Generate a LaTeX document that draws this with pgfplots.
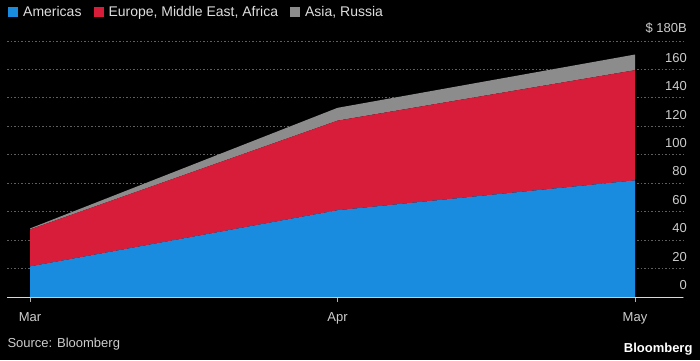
\documentclass[border=0pt]{standalone}
\usepackage{fontspec}
\setmainfont{Liberation Sans}
\usepackage{pgfplots}
\pgfplotsset{compat=1.18}
\definecolor{amer}{RGB}{26,140,224}
\definecolor{emea}{RGB}{215,29,58}
\definecolor{asia}{RGB}{140,140,140}
\definecolor{txt}{RGB}{205,205,205}
\definecolor{grd}{RGB}{95,95,95}
\begin{document}
\begin{tikzpicture}
\fill[black] (0,0) rectangle (700pt,360pt);
\useasboundingbox (0,0) rectangle (700pt,360pt);
\begin{axis}[
  at={(7pt,63pt)}, anchor=south west,
  scale only axis, width=676pt, height=256pt,
  xmin=-2.32, xmax=65.84, ymin=0, ymax=180,
  stack plots=y,
  axis x line=bottom, axis y line=right,
  x axis line style={draw=white!85!black, line width=1pt, -},
  y axis line style={draw=none},
  /pgf/number format/assume math mode=true,
  ytick={0,20,...,180},
  yticklabels={0,20,40,60,80,100,120,140,160,{\$ 180B}},
  yticklabel style={anchor=south east, font=\fontsize{13}{13}\selectfont, text=txt, inner sep=1pt, yshift=6pt},
  ytick style={draw=none},
  xtick={0,31,61}, xticklabels={Mar,Apr,May},
  xticklabel style={anchor=north, font=\fontsize{13}{13}\selectfont, text=txt, yshift=-7pt},
  tick align=outside, major tick length=5pt,
  xtick style={draw=white!70!black, line width=0.8pt},
  ymajorgrids, grid style={draw=grd, line width=0.8pt, dash pattern=on 1.5pt off 2pt},
  legend columns=3,
  legend style={at={(axis description cs:-0.003,1.152)}, anchor=north west, draw=none, fill=none,
    text=white!87!black, font=\fontsize{14}{14}\selectfont,
    /tikz/every odd column/.append style={column sep=3pt},
    /tikz/every even column/.append style={column sep=10pt}},
  legend image code/.code={\fill[#1] (0pt,-5pt) rectangle (10pt,5pt);},
]
\addplot[fill=amer, draw=none] coordinates {(0,21.5) (31,61) (61,82)} \closedcycle;
\addlegendentry{Americas}
\addplot[fill=emea, draw=none] coordinates {(0,26) (31,63) (61,77.5)} \closedcycle;
\addlegendentry{Europe, Middle East, Africa}
\addplot[fill=asia, draw=none] coordinates {(0,0.7) (31,9) (61,11)} \closedcycle;
\addlegendentry{Asia, Russia}
\end{axis}
\node[anchor=west, text=txt, font=\fontsize{13}{13}\selectfont] at (4pt,16pt) {Source: Bloomberg};
\node[anchor=east, text=white, font=\fontsize{13}{13}\selectfont\bfseries] at (696pt,11pt) {Bloomberg};
\end{tikzpicture}
\end{document}
